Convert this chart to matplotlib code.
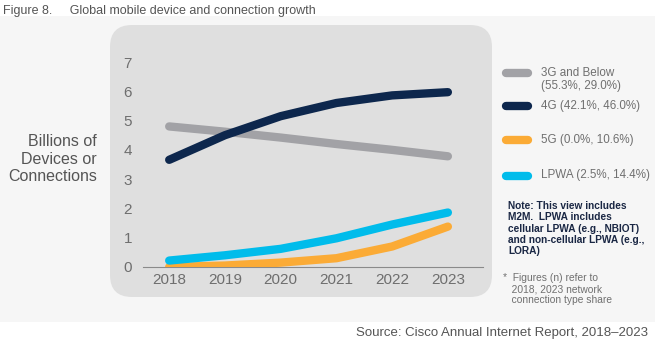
import matplotlib.pyplot as plt
from matplotlib.patches import FancyBboxPatch, Rectangle
from matplotlib.transforms import IdentityTransform

plt.rcParams['font.family'] = ['Liberation Sans', 'DejaVu Sans']

years = [2018, 2019, 2020, 2021, 2022, 2023]
g3 = [4.8, 4.62, 4.42, 4.2, 4.0, 3.78]
g4 = [3.66, 4.5, 5.15, 5.6, 5.86, 5.97]
g5 = [0.0, 0.05, 0.15, 0.3, 0.7, 1.38]
lpwa = [0.22, 0.4, 0.62, 0.98, 1.45, 1.86]

names = ["3G and Below\n(55.3%, 29.0%)", "4G (42.1%, 46.0%)", "5G (0.0%, 10.6%)", "LPWA (2.5%, 14.4%)"]
colors = ["#a2a2a6", "#0d274d", "#fbab36", "#00bceb"]

fig = plt.figure(figsize=(6.55, 3.5), dpi=100, facecolor="white")

# light panel and rounded chart background (pixel coords)
fig.add_artist(Rectangle((0, 350 - 322), 655, 306, transform=IdentityTransform(),
                         facecolor="#f6f6f6", edgecolor="none", zorder=0))
fig.add_artist(FancyBboxPatch((110, 350 - 297), 382, 272, boxstyle="round,pad=0,rounding_size=22",
                              transform=IdentityTransform(), facecolor="#dfdfdf",
                              edgecolor="none", zorder=0))

ax = fig.add_axes([143 / 655, 83 / 350, 340 / 655, 0.62])
ax.set_facecolor("none")
ax.set_zorder(2)

for vals, c in zip([g3, g4, g5, lpwa], colors):
    ax.plot(years, vals, color=c, linewidth=6, solid_capstyle="round", solid_joinstyle="round")

ax.set_xlim(2017.53, 2023.63)
ax.set_ylim(0, 7.41)
ax.set_yticks(range(0, 8))
ax.set_xticks(years)
for s in ["top", "right", "left"]:
    ax.spines[s].set_visible(False)
ax.spines["bottom"].set_color("#8a8a8a")
ax.spines["bottom"].set_linewidth(0.8)
ax.spines["bottom"].set_zorder(0)
ax.tick_params(length=0, labelcolor="#6e6e6e", labelsize=11)
ax.tick_params(axis="x", pad=4)
ax.tick_params(axis="y", pad=8)

fig.text(97 / 655, 1 - 159 / 350, "Billions of\nDevices or\nConnections", ha="right", va="center",
         fontsize=11.5, color="#555555", linespacing=1.2)

# legend
leg_y = [73, 106, 140, 176]
for name, c, y in zip(names, colors, leg_y):
    fig.add_artist(plt.Line2D([506 / 655, 528 / 655], [1 - y / 350] * 2, color=c, linewidth=6,
                              solid_capstyle="round"))
    fig.text(541 / 655, 1 - (y - 6.5) / 350, name, ha="left", va="top", fontsize=8.4,
             color="#707070", linespacing=1.15)

fig.text(508 / 655, 1 - 201 / 350,
         "Note: This view includes\nM2M.  LPWA includes\ncellular LPWA (e.g., NBIOT)\nand non-cellular LPWA (e.g.,\nLORA)",
         ha="left", va="top", fontsize=7.3, fontweight="bold", color="#1a2744", linespacing=1.16)
fig.text(503 / 655, 1 - 273 / 350,
         "*  Figures (n) refer to\n   2018, 2023 network\n   connection type share",
         ha="left", va="top", fontsize=7.4, color="#707070", linespacing=1.15)

fig.text(3 / 655, 1 - 11 / 350, "Figure 8.     Global mobile device and connection growth",
         ha="left", va="center", fontsize=9, color="#555555")
fig.text(648 / 655, 1 - 333 / 350, "Source: Cisco Annual Internet Report, 2018\u20132023",
         ha="right", va="center", fontsize=9.5, color="#555555")

fig.savefig("out.png", dpi=100)
